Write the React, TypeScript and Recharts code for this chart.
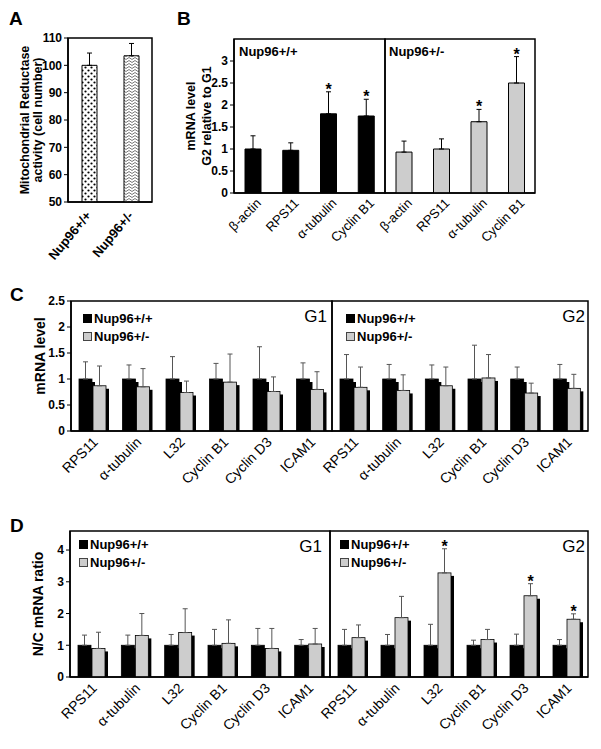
import React from "react";
import {
  Bar,
  BarChart,
  Cell,
  ErrorBar,
  LabelList,
  ReferenceArea,
  XAxis,
  YAxis,
} from "recharts";

const FONT = "'Liberation Sans', Arial, Helvetica, sans-serif";
const GRAY = "#cdcdcd";

// Panel A
const groupsA = ["Nup96+/+", "Nup96+/-"];
const activityA = [100, 103.5];
const activitySdA = [4.5, 4.5];
const ticksA = [50, 60, 70, 80, 90, 100, 110];

// Panel B
const genesB = ["β-actin", "RPS11", "α-tubulin", "Cyclin B1"];
const wtB = [1.0, 0.97, 1.8, 1.75];
const wtSdB = [0.3, 0.17, 0.5, 0.38];
const wtSigB = [false, false, true, true];
const hetB = [0.93, 1.0, 1.62, 2.5];
const hetSdB = [0.25, 0.23, 0.28, 0.6];
const hetSigB = [false, false, true, true];
const ticksB = [0, 0.5, 1, 1.5, 2, 2.5, 3];

// Panels C and D share the gene list
const genesCD = ["RPS11", "α-tubulin", "L32", "Cyclin B1", "Cyclin D3", "ICAM1"];

// Panel C
const wtG1C = [1, 1, 1, 1, 1, 1];
const wtG1SdC = [0.33, 0.27, 0.43, 0.3, 0.62, 0.31];
const hetG1C = [0.87, 0.85, 0.74, 0.94, 0.76, 0.8];
const hetG1SdC = [0.38, 0.35, 0.22, 0.54, 0.28, 0.34];
const wtG2C = [1, 1, 1, 1, 1, 1];
const wtG2SdC = [0.47, 0.28, 0.27, 0.65, 0.23, 0.28];
const hetG2C = [0.84, 0.78, 0.87, 1.02, 0.73, 0.82];
const hetG2SdC = [0.39, 0.3, 0.36, 0.45, 0.19, 0.27];
const ticksC = [0, 0.5, 1, 1.5, 2, 2.5];

// Panel D
const wtG1D = [1, 1, 1, 1, 1, 1];
const wtG1SdD = [0.32, 0.32, 0.34, 0.5, 0.53, 0.18];
const hetG1D = [0.9, 1.31, 1.4, 1.06, 0.9, 1.04];
const hetG1SdD = [0.51, 0.69, 0.75, 0.74, 0.63, 0.49];
const wtG2D = [1, 1, 1, 1, 1, 1];
const wtG2SdD = [0.5, 0.34, 0.66, 0.16, 0.35, 0.18];
const hetG2D = [1.24, 1.87, 3.28, 1.18, 2.56, 1.82];
const hetG2SdD = [0.4, 0.67, 0.76, 0.32, 0.38, 0.17];
const hetG2SigD = [false, false, true, false, true, true];
const ticksD = [0, 1, 2, 3, 4];

const none = [false, false, false, false, false, false];

// star value = error-bar top as a ratio of the bar value (so the label can find it)
const starOf = (v: number, sd: number, sig: boolean) => (sig ? (v + sd) / v : null);

const rowsA = groupsA.map((name, i) => ({
  name,
  v: activityA[i],
  err: [0, activitySdA[i]],
}));

const single = (names: string[], v: number[], sd: number[], sig: boolean[]) =>
  names.map((name, i) => ({
    name,
    v: v[i],
    err: [0, sd[i]],
    star: starOf(v[i], sd[i], sig[i]),
  }));

const paired = (
  wt: number[],
  wtSd: number[],
  het: number[],
  hetSd: number[],
  hetSig: boolean[]
) =>
  genesCD.map((name, i) => ({
    name,
    wt: wt[i],
    wtErr: [0, wtSd[i]],
    het: het[i],
    hetErr: [0, hetSd[i]],
    hetStar: starOf(het[i], hetSd[i], hetSig[i]),
  }));

const rowsBwt = single(genesB, wtB, wtSdB, wtSigB);
const rowsBhet = single(genesB, hetB, hetSdB, hetSigB);
const rowsCg1 = paired(wtG1C, wtG1SdC, hetG1C, hetG1SdC, none);
const rowsCg2 = paired(wtG2C, wtG2SdC, hetG2C, hetG2SdC, none);
const rowsDg1 = paired(wtG1D, wtG1SdD, hetG1D, hetG1SdD, none);
const rowsDg2 = paired(wtG2D, wtG2SdD, hetG2D, hetG2SdD, hetG2SigD);

const ShadowBar = (props: any) => {
  const { x, y, width, height, fill } = props;
  if (!height || height <= 0) return null;
  return (
    <g>
      <rect x={x + 3} y={y + 3} width={width} height={Math.max(height - 3, 0)} fill="#000" />
      <rect x={x} y={y} width={width} height={height} fill={fill} stroke="#000" strokeWidth={0.8} />
    </g>
  );
};

const angledTick = (size: number, bold: boolean, dx: number, dy: number, angle = 45) => (props: any) => {
  const { x, y, payload } = props;
  const tx = x + dx;
  const ty = y + dy;
  return (
    <text
      x={tx}
      y={ty}
      transform={`rotate(-${angle} ${tx} ${ty})`}
      textAnchor="end"
      fontSize={size}
      fontWeight={bold ? 700 : 400}
      fontFamily={FONT}
      fill="#000"
    >
      {payload.value}
    </text>
  );
};

const yTitle = (lines: string[], xs: number[], size: number, shift = 0) => (props: any) => {
  const vb = props.viewBox || {};
  const cy = (vb.y ?? 0) + (vb.height ?? 0) / 2 + shift;
  return (
    <g>
      {lines.map((t, i) => (
        <text
          key={i}
          x={xs[i]}
          y={cy}
          transform={`rotate(-90 ${xs[i]} ${cy})`}
          textAnchor="middle"
          fontSize={size}
          fontWeight={700}
          fontFamily={FONT}
          fill="#000"
        >
          {t}
        </text>
      ))}
    </g>
  );
};

const starLabel = (props: any) => {
  const { value } = props;
  if (value == null || value === "") return null;
  const vb = props.viewBox || props;
  const base = vb.y + vb.height;
  const top = base - vb.height * Number(value);
  return (
    <text
      x={vb.x + vb.width / 2}
      y={top + 3}
      textAnchor="middle"
      fontSize={16}
      fontWeight={700}
      fontFamily={FONT}
      fill="#000"
    >
      *
    </text>
  );
};

type Plot = { x0: number; x1: number; y0: number; y1: number };

const boxStyle = (top: number, height: number): React.CSSProperties => ({
  position: "absolute",
  left: 0,
  top,
  width: 601,
  height,
});

const YW = 30;

// one half (or whole) plot drawn into a full-width, transparent box
function Panel(p: {
  top: number;
  height: number;
  plot: Plot;
  data: any[];
  domain: [number, number];
  ticks?: number[];
  showY: boolean;
  title?: (props: any) => any;
  tick: (props: any) => any;
  children: React.ReactNode;
  barSize: number;
}) {
  const margin = {
    top: p.plot.y0 - p.top,
    bottom: 0,
    left: p.showY ? p.plot.x0 - YW : p.plot.x0,
    right: 601 - p.plot.x1,
  };
  return (
    <div style={boxStyle(p.top, p.height)}>
      <BarChart
        width={601}
        height={p.height}
        data={p.data}
        margin={margin}
        barSize={p.barSize}
        barGap={1}
      >
        <XAxis
          dataKey="name"
          height={p.top + p.height - p.plot.y1}
          tickLine={false}
          tickSize={0}
          tickMargin={0}
          axisLine={{ stroke: "#000", strokeWidth: 1.5 }}
          tick={p.tick}
          interval={0}
        />
        <YAxis
          hide={!p.showY}
          width={YW}
          domain={p.domain}
          ticks={p.ticks}
          allowDataOverflow
          tickSize={4}
          tickMargin={2}
          tickLine={{ stroke: "#000" }}
          axisLine={{ stroke: "#000", strokeWidth: 1.5 }}
          tick={{ fontSize: 12, fontWeight: 700, fontFamily: FONT, fill: "#000" }}
          label={p.title}
        />
        <ReferenceArea
          y1={p.domain[0]}
          y2={p.domain[1]}
          fill="none"
          stroke="#000"
          strokeWidth={1.5}
          ifOverflow="visible"
        />
        {p.children}
      </BarChart>
    </div>
  );
}

const Txt = (p: { x: number; y: number; size: number; bold?: boolean; right?: boolean; children: React.ReactNode }) => (
  <div
    style={{
      position: "absolute",
      left: p.right ? undefined : p.x,
      right: p.right ? 601 - p.x : undefined,
      top: p.y,
      fontSize: p.size,
      fontWeight: p.bold ? 700 : 400,
      fontFamily: FONT,
      lineHeight: 1,
      whiteSpace: "nowrap",
      color: "#000",
    }}
  >
    {p.children}
  </div>
);

const Legend2 = ({ x, y }: { x: number; y: number }) => (
  <>
    <div style={{ position: "absolute", left: x, top: y, width: 9, height: 9, background: "#000", border: "1px solid #000", boxSizing: "border-box" }} />
    <Txt x={x + 11} y={y - 2} size={13} bold>Nup96+/+</Txt>
    <div style={{ position: "absolute", left: x, top: y + 18, width: 9, height: 9, background: GRAY, border: "1px solid #444", boxSizing: "border-box" }} />
    <Txt x={x + 11} y={y + 16} size={13} bold>Nup96+/-</Txt>
  </>
);

const err = (k: string, color = "#222") => (
  <ErrorBar dataKey={k} width={2.5} stroke={color} strokeWidth={1} direction="y" />
);

function pairBars() {
  return [
    <Bar key="wt" dataKey="wt" fill="#000" shape={ShadowBar} isAnimationActive={false}>
      {err("wtErr", "#555")}
    </Bar>,
    <Bar key="het" dataKey="het" fill={GRAY} shape={ShadowBar} isAnimationActive={false}>
      {err("hetErr", "#555")}
      <LabelList dataKey="hetStar" content={starLabel} />
    </Bar>,
  ];
}

export default function App() {
  const tickB = angledTick(13, false, 9, 11);
  const tickCD = angledTick(14, false, 6, 12);
  return (
    <div style={{ position: "absolute", left: 0, top: 0, width: 601, height: 749, background: "#fff" }}>
      <svg width={0} height={0} style={{ position: "absolute" }}>
        <defs>
          <pattern id="dotsA" width={6} height={6} patternUnits="userSpaceOnUse">
            <rect width={6} height={6} fill="#fff" />
            <circle cx={1.5} cy={1.5} r={1.1} fill="#000" />
            <circle cx={4.5} cy={4.5} r={1.1} fill="#000" />
          </pattern>
          <pattern id="chevA" width={6} height={3} patternUnits="userSpaceOnUse">
            <rect width={6} height={3} fill="#fff" />
            <path d="M0 2.5 L3 0.5 L6 2.5" stroke="#555" strokeWidth={0.8} fill="none" />
          </pattern>
        </defs>
      </svg>

      {/* A */}
      <Panel
        top={0}
        height={280}
        plot={{ x0: 68, x1: 152, y0: 38, y1: 202 }}
        data={rowsA}
        domain={[50, 110]}
        ticks={ticksA}
        showY
        title={yTitle(["Mitochondrial Reductase", "activity (cell number)"], [29, 42], 12.5)}
        tick={angledTick(13, true, 3, 14, 50)}
        barSize={15}
      >
        <Bar dataKey="v" stroke="#000" strokeWidth={1} isAnimationActive={false}>
          <Cell fill="url(#dotsA)" />
          <Cell fill="url(#chevA)" />
          {err("err", "#000")}
        </Bar>
      </Panel>

      {/* B */}
      <Panel
        top={0}
        height={280}
        plot={{ x0: 234, x1: 385, y0: 39, y1: 193 }}
        data={rowsBwt}
        domain={[0, 3.5]}
        ticks={ticksB}
        showY
        title={yTitle(["mRNA level", "G2 relative to G1"], [195, 211], 12.5)}
        tick={tickB}
        barSize={16}
      >
        <Bar dataKey="v" fill="#000" stroke="#000" isAnimationActive={false}>
          {err("err", "#000")}
          <LabelList dataKey="star" content={starLabel} />
        </Bar>
      </Panel>
      <Panel
        top={0}
        height={280}
        plot={{ x0: 385, x1: 535, y0: 39, y1: 193 }}
        data={rowsBhet}
        domain={[0, 3.5]}
        ticks={ticksB}
        showY={false}
        tick={tickB}
        barSize={16}
      >
        <Bar dataKey="v" fill={GRAY} stroke="#000" isAnimationActive={false}>
          {err("err", "#000")}
          <LabelList dataKey="star" content={starLabel} />
        </Bar>
      </Panel>

      {/* C */}
      <Panel
        top={285}
        height={220}
        plot={{ x0: 71, x1: 332, y0: 301, y1: 431 }}
        data={rowsCg1}
        domain={[0, 2.5]}
        ticks={ticksC}
        showY
        title={yTitle(["mRNA level"], [45], 14, -10)}
        tick={tickCD}
        barSize={13}
      >
        {pairBars()}
      </Panel>
      <Panel
        top={285}
        height={220}
        plot={{ x0: 332, x1: 588, y0: 301, y1: 431 }}
        data={rowsCg2}
        domain={[0, 2.5]}
        ticks={ticksC}
        showY={false}
        tick={tickCD}
        barSize={13}
      >
        {pairBars()}
      </Panel>

      {/* D */}
      <Panel
        top={515}
        height={234}
        plot={{ x0: 70, x1: 330, y0: 531, y1: 677 }}
        data={rowsDg1}
        domain={[0, 4.6]}
        ticks={ticksD}
        showY
        title={yTitle(["N/C mRNA ratio"], [43], 14)}
        tick={tickCD}
        barSize={13}
      >
        {pairBars()}
      </Panel>
      <Panel
        top={515}
        height={234}
        plot={{ x0: 330, x1: 588, y0: 531, y1: 677 }}
        data={rowsDg2}
        domain={[0, 4.6]}
        ticks={ticksD}
        showY={false}
        tick={tickCD}
        barSize={13}
      >
        {pairBars()}
      </Panel>

      {/* panel letters and annotations */}
      <Txt x={9} y={9} size={19} bold>A</Txt>
      <Txt x={177} y={9} size={19} bold>B</Txt>
      <Txt x={10} y={285} size={19} bold>C</Txt>
      <Txt x={10} y={516} size={19} bold>D</Txt>

      <Txt x={239} y={45} size={13} bold>Nup96+/+</Txt>
      <Txt x={389} y={45} size={13} bold>Nup96+/-</Txt>

      <Legend2 x={83} y={314} />
      <Legend2 x={346} y={314} />
      <Txt x={327} y={308} size={17} right>G1</Txt>
      <Txt x={585} y={308} size={17} right>G2</Txt>

      <Legend2 x={79} y={540} />
      <Legend2 x={340} y={540} />
      <Txt x={322} y={538} size={17} right>G1</Txt>
      <Txt x={585} y={538} size={17} right>G2</Txt>
    </div>
  );
}
